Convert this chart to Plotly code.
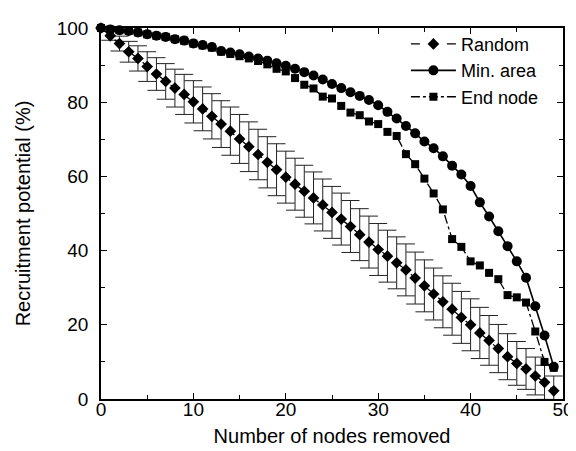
import plotly.graph_objects as go

nodes_removed = list(range(50))

random_vals = [100, 97.9, 95.8, 93.6, 91.8, 89.6, 87.6, 85.6, 83.8, 82.1,
               80.1, 78.2, 76.2, 74.1, 72.2, 70.1, 68.0, 65.9, 63.8, 61.8,
               59.8, 57.9, 56.0, 54.2, 52.3, 50.3, 48.5, 46.5, 44.3, 42.3,
               40.3, 38.5, 36.7, 34.8, 32.6, 30.5, 28.3, 26.2, 24.2, 22.0,
               20.0, 17.8, 15.8, 13.6, 11.4, 9.6, 8.1, 6.2, 4.5, 2.2]
random_err = [0, 1.2, 2.0, 2.8, 3.4, 4.0, 4.4, 4.8, 5.1, 5.4,
              5.7, 5.9, 6.1, 6.3, 6.5, 6.6, 6.7, 6.8, 6.9, 7.0,
              7.0, 7.0, 7.0, 7.0, 7.0, 7.0, 7.0, 7.0, 7.0, 7.0,
              7.0, 7.0, 7.0, 7.0, 7.0, 7.0, 7.0, 7.0, 7.0, 7.0,
              7.0, 6.9, 6.7, 6.5, 6.2, 5.9, 5.5, 5.1, 4.6, 4.0]

min_area_vals = [100, 99.6, 99.4, 99.2, 98.8, 98.3, 97.9, 97.6, 97.0, 96.6,
                 95.8, 95.4, 94.9, 93.8, 93.4, 92.9, 92.3, 91.8, 91.2, 90.5,
                 89.8, 89.0, 88.1, 87.2, 86.1, 84.9, 83.8, 82.7, 81.7, 80.6,
                 79.2, 77.4, 75.6, 73.6, 71.6, 69.4, 67.6, 65.4, 62.9, 60.5,
                 57.4, 53.0, 49.2, 45.2, 41.2, 37.1, 32.7, 25.0, 17.1, 8.7]

end_node_vals = [100, 99.6, 99.4, 99.2, 98.8, 98.3, 97.9, 97.6, 97.0, 96.6,
                 95.8, 95.3, 94.7, 93.6, 93.0, 92.4, 91.8, 91.1, 90.2, 89.0,
                 88.3, 86.5, 84.7, 83.7, 81.5, 81.0, 79.0, 77.2, 76.5, 74.8,
                 74.1, 72.0, 70.9, 66.0, 63.3, 59.4, 55.4, 51.1, 43.1, 41.0,
                 37.1, 36.0, 34.0, 32.3, 28.0, 27.4, 26.0, 18.2, 10.0, 8.4]

x_ticks = [0, 10, 20, 30, 40, 50]
y_ticks = [0, 20, 40, 60, 80, 100]

FONT = "Liberation Sans, Arial, Helvetica, sans-serif"

fig = go.Figure()

fig.add_trace(go.Scatter(
    x=nodes_removed, y=random_vals, name="Random",
    mode="lines+markers",
    line=dict(color="black", width=1.3, dash="dash"),
    marker=dict(symbol="diamond", size=9, color="black"),
    error_y=dict(type="data", array=random_err, visible=True,
                 color="#222222", thickness=1, width=9),
    cliponaxis=False,
))
fig.add_trace(go.Scatter(
    x=nodes_removed, y=min_area_vals, name="Min. area",
    mode="lines+markers",
    line=dict(color="black", width=1.6),
    marker=dict(symbol="circle", size=10, color="black"),
    cliponaxis=False,
))
fig.add_trace(go.Scatter(
    x=nodes_removed, y=end_node_vals, name="End node",
    mode="lines+markers",
    line=dict(color="black", width=1.3, dash="dashdot"),
    marker=dict(symbol="square", size=8, color="black"),
    cliponaxis=False,
))

axis_common = dict(
    showline=True, linecolor="black", linewidth=1.5, mirror="ticks",
    ticks="inside", ticklen=6, tickwidth=1.3, tickcolor="black",
    showgrid=False, zeroline=False,
    tickfont=dict(family=FONT, size=19, color="black"),
)

fig.update_xaxes(
    range=[0, 50], tickvals=x_ticks, ticklabelstandoff=-8,
    minor=dict(tickvals=[5, 15, 25, 35, 45], ticks="inside", ticklen=4,
               tickcolor="black", tickwidth=1),
    title=dict(text="Number of nodes removed",
               font=dict(family=FONT, size=20, color="black"), standoff=10),
    **axis_common,
)
fig.update_yaxes(
    range=[0, 100], tickvals=y_ticks, ticklabelstandoff=7,
    minor=dict(tickvals=[10, 30, 50, 70, 90], ticks="inside", ticklen=4,
               tickcolor="black", tickwidth=1),
    title=dict(text="Recruitment potential (%)",
               font=dict(family=FONT, size=20, color="black"), standoff=21),
    **axis_common,
)

fig.update_layout(
    width=576, height=451,
    margin=dict(l=93, r=10, t=16, b=60),
    paper_bgcolor="white", plot_bgcolor="white",
    showlegend=True,
    legend=dict(x=0.66, y=1.006, xanchor="left", yanchor="top",
                bgcolor="rgba(0,0,0,0)", itemwidth=45,
                font=dict(family=FONT, size=18, color="black"),
                tracegroupgap=0),
    font=dict(family=FONT, color="black"),
)

fig.write_html("out.html")
